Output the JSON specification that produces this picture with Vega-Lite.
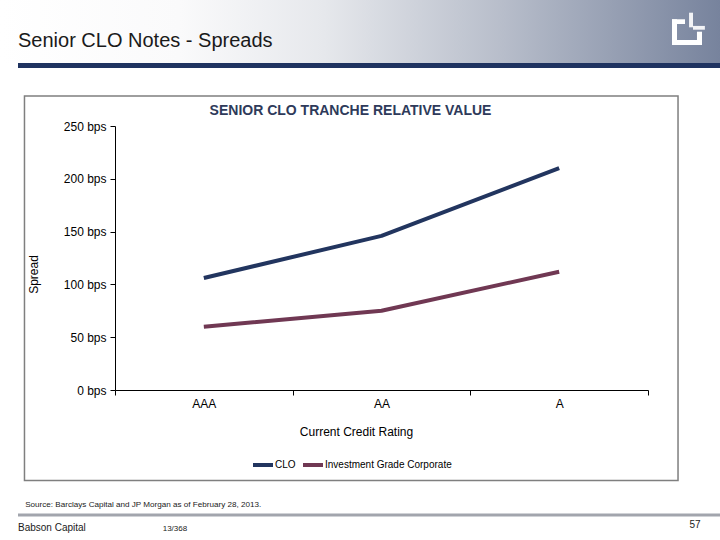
{
  "$schema": "https://vega.github.io/schema/vega-lite/v6.json",
  "width": 533,
  "height": 264,
  "autosize": {"type": "none"},
  "padding": {"left": 115, "top": 126, "right": 72, "bottom": 150},
  "background": "white",
  "config": {"view": {"stroke": null}, "font": "Liberation Sans"},
  "layer": [
    {
      "data": {"values": [{}]},
      "layer": [
        {
          "mark": {"type": "rect", "fill": {"gradient": "linear", "x1": 0, "x2": 1, "y1": 0, "y2": 0, "stops": [{"offset": 0, "color": "#FFFFFF"}, {"offset": 0.25, "color": "#FAFAFB"}, {"offset": 0.45, "color": "#E6E8EC"}, {"offset": 0.7, "color": "#B7BDCA"}, {"offset": 1, "color": "#77839D"}]}},
          "encoding": {
            "x": {"datum": 0, "type": "quantitative", "scale": {"domain": [0, 100], "range": [-115, 605]}, "axis": null},
            "x2": {"datum": 100},
            "y": {"datum": 0, "type": "quantitative", "scale": {"domain": [0, 100], "range": [-126, 414]}, "axis": null},
            "y2": {"datum": 11.67}
          }
        },
        {
          "mark": {"type": "rect", "fill": "#1F3360"},
          "encoding": {
            "x": {"datum": 2.5, "type": "quantitative", "scale": {"domain": [0, 100], "range": [-115, 605]}, "axis": null},
            "x2": {"datum": 100},
            "y": {"datum": 11.67, "type": "quantitative", "scale": {"domain": [0, 100], "range": [-126, 414]}, "axis": null},
            "y2": {"datum": 12.59}
          }
        },
        {
          "mark": {"type": "rect", "fill": "white"},
          "encoding": {
            "x": {"datum": 93.33, "type": "quantitative", "scale": {"domain": [0, 100], "range": [-115, 605]}, "axis": null},
            "x2": {"datum": 94.03},
            "y": {"datum": 3.57, "type": "quantitative", "scale": {"domain": [0, 100], "range": [-126, 414]}, "axis": null},
            "y2": {"datum": 8.33}
          }
        },
        {
          "mark": {"type": "rect", "fill": "white"},
          "encoding": {
            "x": {"datum": 93.33, "type": "quantitative", "scale": {"domain": [0, 100], "range": [-115, 605]}, "axis": null},
            "x2": {"datum": 97.5},
            "y": {"datum": 7.41, "type": "quantitative", "scale": {"domain": [0, 100], "range": [-126, 414]}, "axis": null},
            "y2": {"datum": 8.33}
          }
        },
        {
          "mark": {"type": "rect", "fill": "white"},
          "encoding": {
            "x": {"datum": 96.8, "type": "quantitative", "scale": {"domain": [0, 100], "range": [-115, 605]}, "axis": null},
            "x2": {"datum": 97.5},
            "y": {"datum": 5.87, "type": "quantitative", "scale": {"domain": [0, 100], "range": [-126, 414]}, "axis": null},
            "y2": {"datum": 8.33}
          }
        },
        {
          "mark": {"type": "rect", "fill": "white"},
          "encoding": {
            "x": {"datum": 93.33, "type": "quantitative", "scale": {"domain": [0, 100], "range": [-115, 605]}, "axis": null},
            "x2": {"datum": 95.14},
            "y": {"datum": 3.57, "type": "quantitative", "scale": {"domain": [0, 100], "range": [-126, 414]}, "axis": null},
            "y2": {"datum": 4.44}
          }
        },
        {
          "mark": {"type": "rect", "fill": "#F2F3F6"},
          "encoding": {
            "x": {"datum": 95.7, "type": "quantitative", "scale": {"domain": [0, 100], "range": [-115, 605]}, "axis": null},
            "x2": {"datum": 96.25},
            "y": {"datum": 2.35, "type": "quantitative", "scale": {"domain": [0, 100], "range": [-126, 414]}, "axis": null},
            "y2": {"datum": 5.06}
          }
        },
        {
          "mark": {"type": "rect", "fill": "#F2F3F6"},
          "encoding": {
            "x": {"datum": 96.25, "type": "quantitative", "scale": {"domain": [0, 100], "range": [-115, 605]}, "axis": null},
            "x2": {"datum": 97.9},
            "y": {"datum": 4.8, "type": "quantitative", "scale": {"domain": [0, 100], "range": [-126, 414]}, "axis": null},
            "y2": {"datum": 5.5}
          }
        },
        {
          "mark": {"type": "text", "text": "Senior CLO Notes - Spreads", "align": "left", "baseline": "middle", "fontSize": 20, "color": "#1A1A1A"},
          "encoding": {
            "x": {"datum": 2.5, "type": "quantitative", "scale": {"domain": [0, 100], "range": [-115, 605]}, "axis": null},
            "y": {"datum": 7.6, "type": "quantitative", "scale": {"domain": [0, 100], "range": [-126, 414]}, "axis": null}
          }
        },
        {
          "mark": {"type": "rect", "fill": null, "stroke": "#7F7F7F", "strokeWidth": 1.5},
          "encoding": {
            "x": {"datum": 3.4, "type": "quantitative", "scale": {"domain": [0, 100], "range": [-115, 605]}, "axis": null},
            "x2": {"datum": 94.17},
            "y": {"datum": 17.78, "type": "quantitative", "scale": {"domain": [0, 100], "range": [-126, 414]}, "axis": null},
            "y2": {"datum": 88.98}
          }
        },
        {
          "mark": {"type": "text", "text": "SENIOR CLO TRANCHE RELATIVE VALUE", "align": "center", "baseline": "middle", "fontSize": 14, "fontWeight": "bold", "color": "#2E3A5A"},
          "encoding": {
            "x": {"datum": 48.68, "type": "quantitative", "scale": {"domain": [0, 100], "range": [-115, 605]}, "axis": null},
            "y": {"datum": 20.56, "type": "quantitative", "scale": {"domain": [0, 100], "range": [-126, 414]}, "axis": null}
          }
        },
        {
          "mark": {"type": "rule", "stroke": "#A2A5AD", "strokeWidth": 3},
          "encoding": {
            "x": {"datum": 2.5, "type": "quantitative", "scale": {"domain": [0, 100], "range": [-115, 605]}, "axis": null},
            "x2": {"datum": 100},
            "y": {"datum": 95.37, "type": "quantitative", "scale": {"domain": [0, 100], "range": [-126, 414]}, "axis": null}
          }
        },
        {
          "mark": {"type": "text", "text": "Source: Barclays Capital and JP Morgan as of February 28, 2013.", "align": "left", "baseline": "middle", "fontSize": 8.1, "color": "#1A1A1A"},
          "encoding": {
            "x": {"datum": 3.5, "type": "quantitative", "scale": {"domain": [0, 100], "range": [-115, 605]}, "axis": null},
            "y": {"datum": 93.6, "type": "quantitative", "scale": {"domain": [0, 100], "range": [-126, 414]}, "axis": null}
          }
        },
        {
          "mark": {"type": "text", "text": "Babson Capital", "align": "left", "baseline": "middle", "fontSize": 10, "color": "#1A1A1A"},
          "encoding": {
            "x": {"datum": 2.5, "type": "quantitative", "scale": {"domain": [0, 100], "range": [-115, 605]}, "axis": null},
            "y": {"datum": 97.78, "type": "quantitative", "scale": {"domain": [0, 100], "range": [-126, 414]}, "axis": null}
          }
        },
        {
          "mark": {"type": "text", "text": "13/368", "align": "left", "baseline": "middle", "fontSize": 8, "color": "#1A1A1A"},
          "encoding": {
            "x": {"datum": 22.6, "type": "quantitative", "scale": {"domain": [0, 100], "range": [-115, 605]}, "axis": null},
            "y": {"datum": 97.9, "type": "quantitative", "scale": {"domain": [0, 100], "range": [-126, 414]}, "axis": null}
          }
        },
        {
          "mark": {"type": "text", "text": "57", "align": "right", "baseline": "middle", "fontSize": 10, "color": "#1A1A1A"},
          "encoding": {
            "x": {"datum": 97.3, "type": "quantitative", "scale": {"domain": [0, 100], "range": [-115, 605]}, "axis": null},
            "y": {"datum": 97.2, "type": "quantitative", "scale": {"domain": [0, 100], "range": [-126, 414]}, "axis": null}
          }
        }
      ]
    },
    {
      "data": {
        "values": [
          {"rating": "AAA", "series": "CLO", "spread": 106},
          {"rating": "AA", "series": "CLO", "spread": 146},
          {"rating": "A", "series": "CLO", "spread": 210},
          {"rating": "AAA", "series": "Investment Grade Corporate", "spread": 60},
          {"rating": "AA", "series": "Investment Grade Corporate", "spread": 75},
          {"rating": "A", "series": "Investment Grade Corporate", "spread": 112}
        ]
      },
      "mark": {"type": "line", "interpolate": "linear", "strokeWidth": 4, "strokeJoin": "round"},
      "encoding": {
        "x": {
          "field": "rating",
          "type": "nominal",
          "sort": ["AAA", "AA", "A"],
          "bandPosition": 0.5,
          "scale": {"type": "band", "paddingInner": 0, "paddingOuter": 0},
          "title": "Current Credit Rating",
          "axis": {
            "tickBand": "extent",
            "labelAngle": 0,
            "labelFontSize": 12,
            "labelColor": "black",
            "labelPadding": 3,
            "tickSize": 5,
            "tickColor": "black",
            "domainColor": "black",
            "titleFontSize": 12,
            "titleFontWeight": "normal",
            "titleColor": "black",
            "titleX": 241,
            "titleY": 41,
            "titleAlign": "center",
            "titleBaseline": "middle"
          }
        },
        "y": {
          "field": "spread",
          "type": "quantitative",
          "scale": {"domain": [0, 250], "nice": false},
          "title": "Spread",
          "axis": {
            "values": [0, 50, 100, 150, 200, 250],
            "labelExpr": "datum.value + ' bps'",
            "grid": false,
            "labelFontSize": 12,
            "labelColor": "black",
            "labelPadding": 4,
            "tickSize": 5,
            "tickColor": "black",
            "domainColor": "black",
            "titleFontSize": 12,
            "titleFontWeight": "normal",
            "titleColor": "black",
            "titleX": -82,
            "titleY": 148,
            "titleAlign": "center",
            "titleBaseline": "middle"
          }
        },
        "color": {
          "field": "series",
          "type": "nominal",
          "sort": ["CLO", "Investment Grade Corporate"],
          "scale": {"range": ["#22355F", "#703853"]},
          "legend": {
            "title": null,
            "orient": "none",
            "direction": "horizontal",
            "legendX": 136,
            "legendY": 327,
            "symbolType": "stroke",
            "symbolSize": 400,
            "symbolStrokeWidth": 4,
            "labelFontSize": 10,
            "labelColor": "black",
            "labelOffset": 0,
            "columnPadding": -1,
            "padding": 0
          }
        }
      }
    }
  ],
  "resolve": {"scale": {"x": "independent", "y": "independent"}, "axis": {"x": "independent", "y": "independent"}}
}
